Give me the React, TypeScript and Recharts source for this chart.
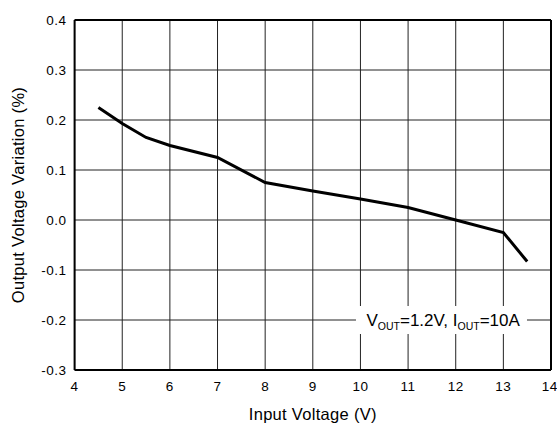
import { LineChart, Line, XAxis, YAxis, CartesianGrid, ReferenceLine, ReferenceDot } from 'recharts'

const inputVoltage = [4.5, 5, 5.5, 6, 7, 8, 9, 10, 11, 12, 13, 13.5]
const variation = [0.225, 0.193, 0.165, 0.149, 0.125, 0.075, 0.058, 0.042, 0.025, 0.0, -0.025, -0.083]
const xTicks = [4, 5, 6, 7, 8, 9, 10, 11, 12, 13, 14]
const yTicks = [-0.3, -0.2, -0.1, 0.0, 0.1, 0.2, 0.3, 0.4]

const data = inputVoltage.map((v, i) => ({ vin: v, pct: variation[i] }))

const FONT = '"Liberation Sans", Arial, sans-serif'

function NoteBox(props: any) {
  const { cx, cy } = props
  if (cx == null || cy == null) return null
  return (
    <g>
      <rect x={cx - 84.5} y={cy - 14} width={171} height={28} fill="#fff" />
      <text x={cx - 74} y={cy + 6} textAnchor="start" fontFamily={FONT} fontSize={17} fill="#000">
        V<tspan fontSize={10.5} dy={4}>OUT</tspan>
        <tspan dy={-4}>=1.2V, I</tspan>
        <tspan fontSize={10.5} dy={4}>OUT</tspan>
        <tspan dy={-4}>=10A</tspan>
      </text>
    </g>
  )
}

export default function App() {
  return (
    <div style={{ position: 'absolute', left: 0, top: 0, width: 557, height: 423, background: '#fff' }}>
      <LineChart width={557} height={423} data={data} margin={{ top: 20, right: 6, bottom: 0, left: 0 }}>
        <CartesianGrid stroke="#222" strokeWidth={1} />
        <XAxis
          dataKey="vin"
          type="number"
          domain={[4, 14]}
          ticks={xTicks}
          tickLine={false}
          axisLine={{ stroke: '#000', strokeWidth: 2 }}
          height={53}
          tick={{ fill: '#000', fontSize: 13.5, fontFamily: FONT, letterSpacing: 0.5 }}
          tickMargin={5}
          label={{ value: 'Input Voltage (V)', position: 'insideBottom', offset: 3, fill: '#000', fontSize: 16.5, fontFamily: FONT, letterSpacing: 0.3 }}
        />
        <YAxis
          type="number"
          domain={[-0.3, 0.4]}
          ticks={yTicks}
          tickFormatter={(v: number) => v.toFixed(1)}
          tickLine={false}
          axisLine={{ stroke: '#000', strokeWidth: 2 }}
          width={74.6}
          tick={{ fill: '#000', fontSize: 13.5, fontFamily: FONT, letterSpacing: 0.5 }}
          tickMargin={2}
          label={{ value: 'Output Voltage Variation (%)', angle: -90, position: 'insideLeft', offset: 18, style: { textAnchor: 'middle' }, fill: '#000', fontSize: 16.5, fontFamily: FONT, letterSpacing: 0.3 }}
        />
        <ReferenceLine y={0.4} stroke="#000" strokeWidth={2} />
        <ReferenceLine x={14} stroke="#000" strokeWidth={2} />
        <Line dataKey="pct" type="linear" stroke="#000" strokeWidth={3} dot={false} isAnimationActive={false} />
        <ReferenceDot x={11.68} y={-0.2} r={0} shape={(p: any) => <NoteBox {...p} />} />
      </LineChart>
    </div>
  )
}
